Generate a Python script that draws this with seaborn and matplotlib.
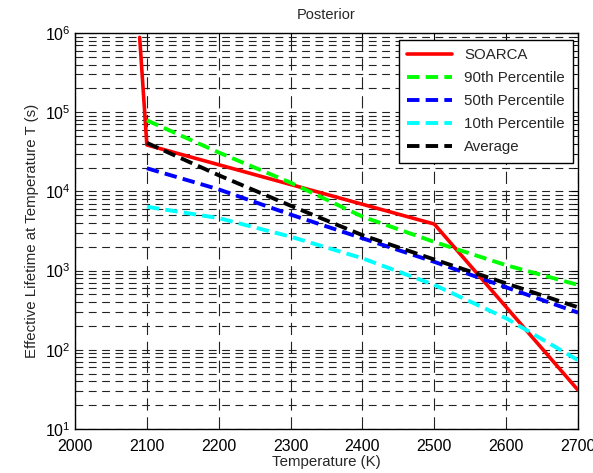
import matplotlib
matplotlib.use("Agg")
import matplotlib.pyplot as plt
import seaborn as sns
import pandas as pd
import numpy as np
from matplotlib.ticker import LogLocator, FixedLocator

# ---- data ----
soarca_T = [2090, 2100, 2500, 2700]
soarca_v = [8.8e5, 3.86e4, 3.87e3, 31]

pct_T = [2100, 2200, 2300, 2400, 2500, 2600, 2700]
p90 = [7.9e4, 3.1e4, 1.29e4, 4.8e3, 2.3e3, 1.17e3, 6.6e2]
p50 = [1.96e4, 1.06e4, 5.1e3, 2.56e3, 1.29e3, 6.15e2, 2.95e2]
p10 = [6.4e3, 4.6e3, 2.68e3, 1.43e3, 6.6e2, 2.5e2, 74]
avg = [4.1e4, 1.6e4, 6.6e3, 2.8e3, 1.38e3, 6.9e2, 3.44e2]

series_names = ["SOARCA", "90th Percentile", "50th Percentile", "10th Percentile", "Average"]
colors = ["#ff0000", "#00ff00", "#0000ff", "#00ffff", "#000000"]
xticks = [2000, 2100, 2200, 2300, 2400, 2500, 2600, 2700]

frames = [pd.DataFrame({"T": soarca_T, "life": soarca_v, "series": "SOARCA"})]
for name, vals in zip(series_names[1:], [p90, p50, p10, avg]):
    frames.append(pd.DataFrame({"T": pct_T, "life": vals, "series": name}))
df = pd.concat(frames, ignore_index=True)

sns.set_style("white")
plt.rcParams["font.family"] = ["Liberation Sans", "DejaVu Sans"]
plt.rcParams["xtick.direction"] = "in"
plt.rcParams["ytick.direction"] = "in"

fig = plt.figure(figsize=(5.93, 4.73), dpi=100)
ax = fig.add_axes([75 / 593, 1 - 429 / 473, (578 - 75) / 593, (429 - 33) / 473])

for name, col in zip(series_names, colors):
    sub = df[df["series"] == name]
    if name == "SOARCA":
        sns.lineplot(data=sub, x="T", y="life", ax=ax, color=col, lw=2.6,
                     label=name, sort=False, zorder=3)
    else:
        sns.lineplot(data=sub, x="T", y="life", ax=ax, color=col, lw=2.8,
                     label=name, sort=False, zorder=3, linestyle=(0, (3.2, 1.6)))

ax.set_yscale("log")
ax.set_xlim(2000, 2700)
ax.set_ylim(10, 1e6)
ax.xaxis.set_major_locator(FixedLocator(xticks))
ax.yaxis.set_major_locator(LogLocator(base=10, numticks=10))
ax.yaxis.set_minor_locator(LogLocator(base=10, subs=np.arange(2, 10), numticks=20))

ax.grid(True, which="major", axis="x", color="#222222", lw=0.8, linestyle=(0, (11, 6)))
ax.grid(True, which="both", axis="y", color="#222222", lw=0.8, linestyle=(0, (7, 5)))
ax.set_axisbelow(True)

for sp in ax.spines.values():
    sp.set_color("black")
    sp.set_linewidth(1.0)

ax.tick_params(axis="both", which="both", top=True, right=True, labelsize=11.5, colors="black")
ax.tick_params(axis="x", which="major", pad=7)
ax.tick_params(axis="y", which="major", pad=3)
ax.tick_params(which="major", length=5, width=0.8)
ax.tick_params(which="minor", length=3, width=0.6)

ax.set_xlabel("Temperature (K)", fontsize=10.8, labelpad=1)
ax.set_ylabel("Effective Lifetime at Temperature T (s)", fontsize=10.8, labelpad=4)
ax.set_title("Posterior", fontsize=10.5, pad=10)

leg = ax.legend(loc="upper right", fontsize=10.8, frameon=True, fancybox=False,
                edgecolor="black", borderpad=0.55, handlelength=3.0, labelspacing=0.6,
                borderaxespad=0, bbox_to_anchor=(0.990, 0.982))
leg.get_frame().set_linewidth(1.0)
leg.get_frame().set_alpha(1)

fig.savefig("out.png", dpi=100)
